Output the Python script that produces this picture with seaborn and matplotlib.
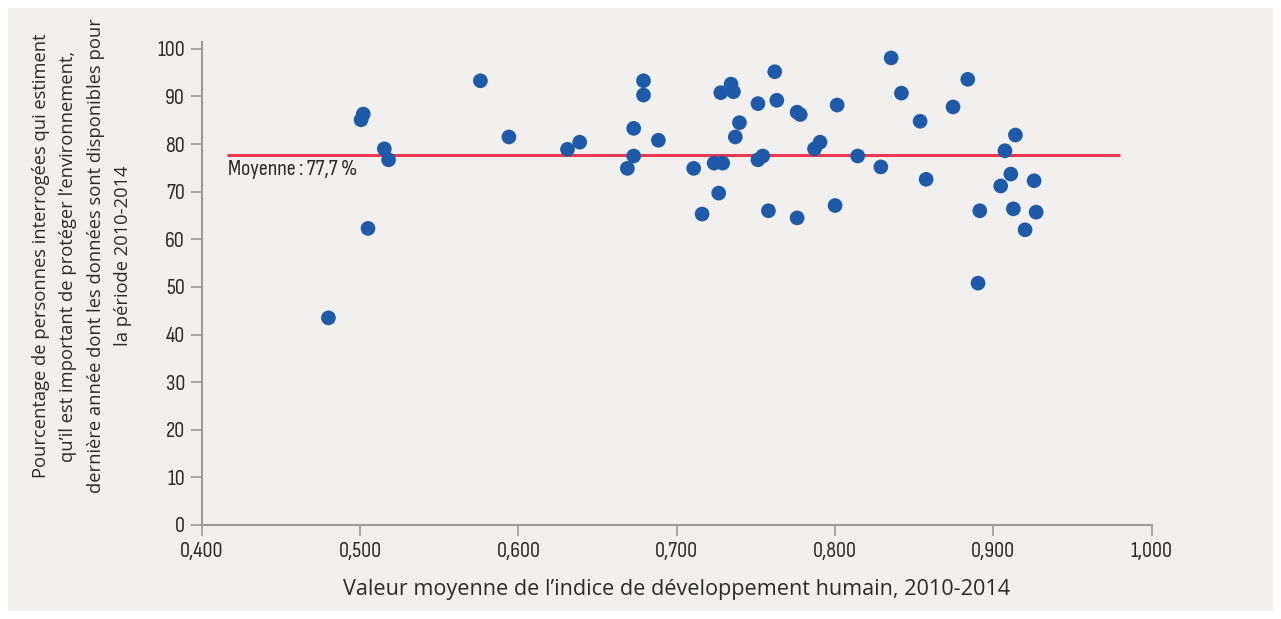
import matplotlib
matplotlib.use("Agg")
import matplotlib.pyplot as plt
from matplotlib.patches import Rectangle
import seaborn as sns
import pandas as pd

# Human development index (mean 2010-2014) and share of respondents (%)
hdi = [0.480, 0.5006, 0.502, 0.505, 0.5153, 0.518, 0.576, 0.594, 0.631, 0.6387,
       0.6688, 0.6728, 0.6728, 0.679, 0.679, 0.6884, 0.7107, 0.716, 0.7236, 0.7265,
       0.7278, 0.729, 0.7343, 0.7358, 0.737, 0.7396, 0.7513, 0.7513, 0.7543, 0.7579,
       0.7619, 0.7632, 0.776, 0.776, 0.778, 0.787, 0.7905, 0.800, 0.8013, 0.8143,
       0.8289, 0.8354, 0.8419, 0.8537, 0.8575, 0.8745, 0.8838, 0.8903, 0.8914, 0.9046,
       0.9073, 0.911, 0.9126, 0.9139, 0.920, 0.9257, 0.927]
pct = [43.5, 85.1, 86.3, 62.3, 79.0, 76.7, 93.3, 81.5, 78.9, 80.4,
       74.9, 83.3, 77.5, 93.3, 90.3, 80.8, 74.9, 65.3, 76.0, 69.7,
       90.8, 76.0, 92.6, 91.0, 81.5, 84.5, 88.5, 76.7, 77.5, 66.0,
       95.2, 89.2, 86.7, 64.5, 86.2, 79.0, 80.4, 67.1, 88.2, 77.5,
       75.2, 98.1, 90.7, 84.8, 72.6, 87.8, 93.6, 50.8, 66.0, 71.2,
       78.6, 73.7, 66.4, 81.9, 62.0, 72.3, 65.7]

mean_value = 77.7
mean_label = "Moyenne : 77,7 %"
x_ticks = [0.4, 0.5, 0.6, 0.7, 0.8, 0.9, 1.0]
x_tick_labels = ["0,400", "0,500", "0,600", "0,700", "0,800", "0,900", "1,000"]
y_ticks = [0, 10, 20, 30, 40, 50, 60, 70, 80, 90, 100]
x_title = "Valeur moyenne de l’indice de développement humain, 2010-2014"
y_title = ("Pourcentage de personnes interrogées qui estiment\n"
           "qu’il est important de protéger l’environnement,\n"
           "dernière année dont les données sont disponibles pour\n"
           "la période 2010-2014")

sns.set_theme(style="white")
plt.rcParams["font.family"] = ["Sofia Sans Condensed", "DejaVu Sans"]
TITLE_FONT = ["Open Sans", "DejaVu Sans"]

BLUE = "#1f5aa8"
RED = "#e8394f"
PANEL = "#f1f0ef"
SPINE = "#9a9a9a"
TEXT = "#2b2b2b"

fig = plt.figure(figsize=(12.81, 6.19), dpi=100, facecolor="white")
fig.patches.append(Rectangle((8 / 1281, 8 / 619), 1265 / 1281, 603 / 619,
                             transform=fig.transFigure, facecolor=PANEL,
                             edgecolor="none", zorder=-10))

ax = fig.add_axes([0.1575, 0.1519, 0.7416, 0.7807])
ax.set_facecolor("none")

df = pd.DataFrame({"hdi": hdi, "pct": pct})
sns.scatterplot(data=df, x="hdi", y="pct", ax=ax, color=BLUE, s=112,
                edgecolor="none", linewidth=0, zorder=3)

# Mean reference line with its label just below the left end
ax.hlines(mean_value, 0.416, 0.980, color=RED, linewidth=2.2, zorder=2)
ax.text(0.4165, mean_value - 3.0, mean_label, ha="left", va="center",
        fontsize=16, color=TEXT)

ax.set_xlim(0.4, 1.0)
ax.set_ylim(0, 101.5)
ax.set_xticks(x_ticks)
ax.set_xticklabels(x_tick_labels)
ax.set_yticks(y_ticks)
ax.set_yticklabels([str(v) for v in y_ticks])

for side in ["top", "right"]:
    ax.spines[side].set_visible(False)
for side in ["left", "bottom"]:
    ax.spines[side].set_color(SPINE)
    ax.spines[side].set_linewidth(1.5)

ax.tick_params(axis="both", which="major", direction="out", length=8,
               width=1.2, color=SPINE, labelcolor=TEXT, labelsize=16,
               pad=4, bottom=True, left=True)

ax.set_xlabel("")
ax.set_ylabel("")
fig.text(676.7 / 1281, 1 - 590 / 619, x_title, ha="center", va="center",
         fontsize=15.6, color=TEXT, family=TITLE_FONT)
fig.text(82 / 1281, 1 - 256 / 619, y_title, ha="center", va="center",
         rotation=90, fontsize=13.2, color=TEXT, linespacing=1.68,
         family=TITLE_FONT)

fig.savefig("out.png", dpi=100, facecolor="white")
